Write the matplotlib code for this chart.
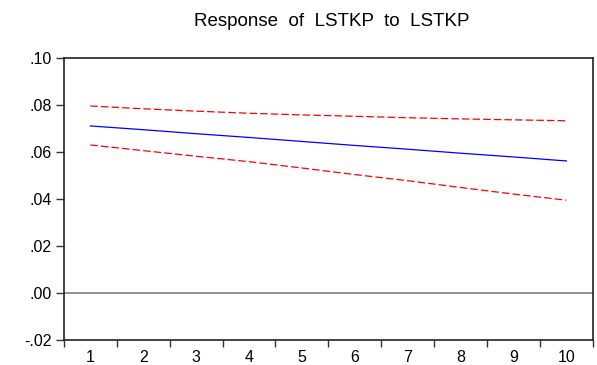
import matplotlib
matplotlib.use("Agg")
import matplotlib.pyplot as plt
import numpy as np

periods = [1, 2, 3, 4, 5, 6, 7, 8, 9, 10]
response = [0.0711, 0.0695, 0.0678, 0.0662, 0.0645, 0.0628, 0.0612, 0.0595, 0.0579, 0.0562]
upper = [0.0796, 0.0784, 0.0774, 0.0765, 0.0758, 0.0752, 0.0746, 0.0741, 0.0737, 0.0733]
lower = [0.0630, 0.0606, 0.0582, 0.0559, 0.0532, 0.0504, 0.0478, 0.0449, 0.0421, 0.0395]
ytick_vals = [-0.02, 0.00, 0.02, 0.04, 0.06, 0.08, 0.10]
ytick_labels = ["-.02", ".00", ".02", ".04", ".06", ".08", ".10"]
title = "Response  of  LSTKP  to  LSTKP"

plt.rcParams['font.family'] = ['Liberation Sans', 'DejaVu Sans']
fig = plt.figure(figsize=(5.97, 3.65), dpi=100)
ax = fig.add_axes([0.107, 0.0685, 0.886, 0.7725])

ax.axhline(0, color='#808080', lw=1.2, zorder=1)
ax.plot(periods, response, color='#0000ff', lw=0.9)
ax.plot(periods, upper, color='#ff0000', lw=0.9, ls=(0, (6, 2.5)))
ax.plot(periods, lower, color='#ff0000', lw=0.9, ls=(0, (6, 2.5)))

ax.set_xlim(0.5, 10.5)
ax.set_ylim(-0.02, 0.10)
ax.set_yticks(ytick_vals)
ax.set_yticklabels(ytick_labels, fontsize=11.5)
ax.set_xticks(periods)
ax.set_xticklabels([str(p) for p in periods], fontsize=11.5)
ax.tick_params(axis='x', which='major', length=0, pad=7)
ax.set_xticks(np.arange(0.5, 11, 1), minor=True)
ax.tick_params(axis='x', which='minor', length=5, width=1, color='#333333')
ax.tick_params(axis='y', length=6, width=1, color='#333333', pad=3)
for s in ax.spines.values():
    s.set_linewidth(1.2)
    s.set_color('#222222')

fig.text(0.555, 0.942, title, ha='center', va='center', fontsize=13.5)
fig.savefig("out.png", dpi=100)
